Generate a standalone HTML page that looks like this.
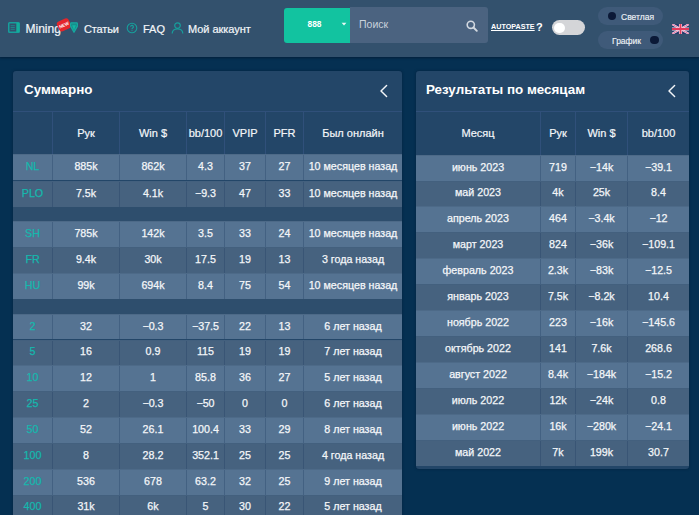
<!DOCTYPE html>
<html><head><meta charset="utf-8"><title>Stats</title>
<style>
*{box-sizing:border-box;margin:0;padding:0}
html,body{width:699px;height:515px;overflow:hidden}
body{background:#053052;font-family:"Liberation Sans","DejaVu Sans",sans-serif;position:relative;color:#fff}
.abs{position:absolute}
.hdr{position:absolute;left:0;top:0;width:699px;height:57px;background:#33516d;box-shadow:0 1px 2px rgba(0,15,35,0.5)}
.nav{position:absolute;top:22px;font-size:11px;line-height:14px;color:#f2f5f8;white-space:nowrap;-webkit-text-stroke:0.2px currentColor}
.pill{width:65px;height:17.5px;border-radius:9px;background:#3f5a79}
.dot{width:8.6px;height:8.6px;border-radius:50%;background:#0b1937}
.ptxt{font-size:8.5px;line-height:10px;color:#eef2f6;white-space:nowrap;-webkit-text-stroke:0.15px currentColor}
.panel{position:absolute;background:#234668;border-radius:3px;box-shadow:0 0 3px rgba(0,10,30,0.35)}
.ptitle{position:absolute;font-weight:bold;font-size:13.4px;line-height:16px;color:#fff;white-space:nowrap}
.tbl{position:absolute;overflow:hidden}
.tr{position:absolute;left:0;right:0;white-space:nowrap}
.td{position:absolute;top:0;bottom:0;display:flex;align-items:center;justify-content:center;font-size:10.7px;color:#f4f6f9;padding-bottom:3px;-webkit-text-stroke:0.25px currentColor}
.th .td{font-size:11px;padding-bottom:0.5px;-webkit-text-stroke:0.2px currentColor}
.bl{border-left:1px solid rgba(30,60,95,0.32)}
.th .bl{border-left-color:#30507a}
.light{background:#557392;border-top:1px solid #4d6a88}
.dark{background:#46627f;border-top:1px solid #43607e}
.th{border-top:1px solid #30507a}
.sep{background:#2e4e6d}
.lbl{color:#15b8ad}
</style></head>
<body>
<div class="hdr">
 <svg class="abs" style="left:8px;top:21.5px" width="12" height="11" viewBox="0 0 12 11">
  <rect x="0.75" y="0.75" width="10.5" height="9.5" rx="0.8" fill="none" stroke="#179f9c" stroke-width="1.5"/>
  <rect x="8.3" y="0.8" width="2.9" height="9.4" fill="#13ad9c"/>
  <path d="M2.6 3.7h4.2M2.6 5.5h4.2M2.6 7.3h4.2" stroke="#179f9c" stroke-width="0.9" opacity="0.75"/>
 </svg>
 <span class="nav" style="left:25.5px;top:21.5px;font-size:12px">Mining</span>
 <svg class="abs" style="left:56px;top:17px" width="16" height="16" viewBox="0 0 16 16">
  <g transform="rotate(-24 8 8)"><rect x="1.6" y="2.6" width="12.8" height="10.6" rx="2.8" fill="#e4262b"/>
  <text x="8" y="9.5" font-family="Liberation Sans" font-weight="bold" font-size="4.4" fill="#fff" text-anchor="middle">NEW</text></g>
 </svg>
 <svg class="abs" style="left:70px;top:22px" width="8" height="11" viewBox="0 0 8 11">
  <path d="M1 0.8h6l0.8 2.6L4 10.3 0.2 3.4z" fill="#168f8c" stroke="#17a8a0" stroke-width="1.3" stroke-linejoin="round"/>
  <path d="M2.2 3.2L4 8.6 5.8 3.2z" fill="#12b5a4"/>
 </svg>
 <span class="nav" style="left:84px;letter-spacing:-0.15px">Статьи</span>
 <svg class="abs" style="left:126px;top:22px" width="12" height="12" viewBox="0 0 12 12">
  <circle cx="6" cy="6" r="4.8" fill="none" stroke="#179f9c" stroke-width="1.1"/>
  <path d="M4.6 4.8a1.4 1.4 0 1 1 2 1.2c-.5.3-.6.6-.6 1.2" fill="none" stroke="#179f9c" stroke-width="1.1"/>
  <circle cx="6" cy="8.6" r="0.6" fill="#179f9c"/>
 </svg>
 <span class="nav" style="left:143px">FAQ</span>
 <svg class="abs" style="left:171px;top:22px" width="13" height="12" viewBox="0 0 13 12">
  <circle cx="6.5" cy="3.6" r="2.8" fill="none" stroke="#179f9c" stroke-width="1.2"/>
  <path d="M1.2 11.6c0-3 2.3-4.6 5.3-4.6s5.3 1.6 5.3 4.6" fill="none" stroke="#179f9c" stroke-width="1.2"/>
 </svg>
 <span class="nav" style="left:188px;letter-spacing:-0.05px">Мой аккаунт</span>
 <div class="abs" style="left:284px;top:8px;width:66px;height:35px;background:#12c3a0;border-radius:3px 0 0 3px"></div>
 <span class="abs" style="left:307.5px;top:18.6px;font-size:8.4px;line-height:10px;font-weight:bold;color:#fff">888</span>
 <svg class="abs" style="left:341px;top:22px" width="6" height="4" viewBox="0 0 6 4"><path d="M0.6 0.8h4.8L3 3.4z" fill="#e8f8f4"/></svg>
 <div class="abs" style="left:350px;top:7px;width:138px;height:36px;background:#4b6380;border-radius:0 3px 3px 0"></div>
 <span class="abs" style="left:359px;top:18px;font-size:10.5px;line-height:12px;color:#c9d2dc">Поиск</span>
 <svg class="abs" style="left:466px;top:20px" width="12" height="12" viewBox="0 0 12 12">
  <circle cx="4.8" cy="4.8" r="3.6" fill="none" stroke="#d3d9e0" stroke-width="1.6"/>
  <path d="M7.5 7.5L10.8 10.8" stroke="#d3d9e0" stroke-width="1.9" stroke-linecap="round"/>
 </svg>
 <span class="abs" style="left:491px;top:23px;font-size:7.2px;line-height:8px;font-weight:bold;color:#fff;text-decoration:underline">AUTOPASTE</span>
 <span class="abs" style="left:536px;top:21px;font-size:11px;line-height:12px;font-weight:bold;color:#fff">?</span>
 <div class="abs" style="left:552px;top:20px;width:33px;height:15px;border-radius:8px;background:#d4d5d8"></div>
 <div class="abs" style="left:554px;top:22.5px;width:10.5px;height:10.5px;border-radius:50%;background:#fff"></div>
 <div class="abs pill" style="left:598px;top:7px"></div>
 <div class="abs dot" style="left:607.5px;top:11.7px"></div>
 <span class="abs ptxt" style="left:621px;top:12px">Светлая</span>
 <div class="abs pill" style="left:598px;top:31px"></div>
 <span class="abs ptxt" style="left:612px;top:36px">График</span>
 <div class="abs dot" style="left:650px;top:35.7px"></div>
 <svg class="abs" style="left:672px;top:24px" width="17" height="10" viewBox="0 0 60 36" preserveAspectRatio="none">
  <rect width="60" height="36" fill="#24386a"/>
  <path d="M0 0L60 36M60 0L0 36" stroke="#f3e6f0" stroke-width="7"/>
  <path d="M0 0L60 36M60 0L0 36" stroke="#e5397a" stroke-width="2.5"/>
  <path d="M30 0v36M0 18h60" stroke="#f3e6f0" stroke-width="11"/>
  <path d="M30 0v36M0 18h60" stroke="#e33a5a" stroke-width="6.5"/>
 </svg>
</div>
<div class="panel" style="left:13px;top:71px;width:389px;height:460px">
</div>
<div class="ptitle" style="left:24px;top:82.4px">Суммарно</div>
<svg class="abs" style="left:379.3px;top:84px" width="9" height="14" viewBox="0 0 9 14"><path d="M7.6 1.4L2 7l5.6 5.6" fill="none" stroke="#f2f5f8" stroke-width="1.45" stroke-linecap="round" stroke-linejoin="round"/></svg>
<div class="panel" style="left:416px;top:71px;width:273px;height:398px"></div>
<div class="ptitle" style="left:426px;top:82.4px">Результаты по месяцам</div>
<svg class="abs" style="left:666.9px;top:84.2px" width="9" height="14" viewBox="0 0 9 14"><path d="M7.6 1.4L2 7l5.6 5.6" fill="none" stroke="#f2f5f8" stroke-width="1.45" stroke-linecap="round" stroke-linejoin="round"/></svg>
<div class="tbl" id="lt" style="left:13px;top:111px;width:389px;height:410px"><div class="tr th" style="top:0;height:43.40px"><div class="td" style="left:0px;width:39px"></div><div class="td bl" style="left:39px;width:67px">Рук</div><div class="td bl" style="left:106px;width:67px">Win $</div><div class="td bl" style="left:173px;width:38px">bb/100</div><div class="td bl" style="left:211px;width:41px">VPIP</div><div class="td bl" style="left:252px;width:38px">PFR</div><div class="td bl" style="left:290px;width:99px">Был онлайн</div></div><div class="tr light" style="top:43.40px;height:26.10px"><div class="td lbl" style="left:0px;width:39px">NL</div><div class="td bl" style="left:39px;width:67px">885k</div><div class="td bl" style="left:106px;width:67px">862k</div><div class="td bl" style="left:173px;width:38px">4.3</div><div class="td bl" style="left:211px;width:41px">37</div><div class="td bl" style="left:252px;width:38px">27</div><div class="td bl" style="left:290px;width:99px">10 месяцев назад</div></div><div class="tr dark" style="top:69.50px;height:26.30px"><div class="td lbl" style="left:0px;width:39px">PLO</div><div class="td bl" style="left:39px;width:67px">7.5k</div><div class="td bl" style="left:106px;width:67px">4.1k</div><div class="td bl" style="left:173px;width:38px">−9.3</div><div class="td bl" style="left:211px;width:41px">47</div><div class="td bl" style="left:252px;width:38px">33</div><div class="td bl" style="left:290px;width:99px">10 месяцев назад</div></div><div class="tr sep" style="top:95.80px;height:14.00px"></div><div class="tr light" style="top:109.80px;height:26.50px"><div class="td lbl" style="left:0px;width:39px">SH</div><div class="td bl" style="left:39px;width:67px">785k</div><div class="td bl" style="left:106px;width:67px">142k</div><div class="td bl" style="left:173px;width:38px">3.5</div><div class="td bl" style="left:211px;width:41px">33</div><div class="td bl" style="left:252px;width:38px">24</div><div class="td bl" style="left:290px;width:99px">10 месяцев назад</div></div><div class="tr dark" style="top:136.30px;height:25.80px"><div class="td lbl" style="left:0px;width:39px">FR</div><div class="td bl" style="left:39px;width:67px">9.4k</div><div class="td bl" style="left:106px;width:67px">30k</div><div class="td bl" style="left:173px;width:38px">17.5</div><div class="td bl" style="left:211px;width:41px">19</div><div class="td bl" style="left:252px;width:38px">13</div><div class="td bl" style="left:290px;width:99px">3 года назад</div></div><div class="tr light" style="top:162.10px;height:25.60px"><div class="td lbl" style="left:0px;width:39px">HU</div><div class="td bl" style="left:39px;width:67px">99k</div><div class="td bl" style="left:106px;width:67px">694k</div><div class="td bl" style="left:173px;width:38px">8.4</div><div class="td bl" style="left:211px;width:41px">75</div><div class="td bl" style="left:252px;width:38px">54</div><div class="td bl" style="left:290px;width:99px">10 месяцев назад</div></div><div class="tr sep" style="top:187.70px;height:15.20px"></div><div class="tr light" style="top:202.90px;height:25.60px"><div class="td lbl" style="left:0px;width:39px">2</div><div class="td bl" style="left:39px;width:67px">32</div><div class="td bl" style="left:106px;width:67px">−0.3</div><div class="td bl" style="left:173px;width:38px">−37.5</div><div class="td bl" style="left:211px;width:41px">22</div><div class="td bl" style="left:252px;width:38px">13</div><div class="td bl" style="left:290px;width:99px">6 лет назад</div></div><div class="tr dark" style="top:228.50px;height:25.80px"><div class="td lbl" style="left:0px;width:39px">5</div><div class="td bl" style="left:39px;width:67px">16</div><div class="td bl" style="left:106px;width:67px">0.9</div><div class="td bl" style="left:173px;width:38px">115</div><div class="td bl" style="left:211px;width:41px">19</div><div class="td bl" style="left:252px;width:38px">19</div><div class="td bl" style="left:290px;width:99px">7 лет назад</div></div><div class="tr light" style="top:254.30px;height:25.90px"><div class="td lbl" style="left:0px;width:39px">10</div><div class="td bl" style="left:39px;width:67px">12</div><div class="td bl" style="left:106px;width:67px">1</div><div class="td bl" style="left:173px;width:38px">85.8</div><div class="td bl" style="left:211px;width:41px">36</div><div class="td bl" style="left:252px;width:38px">27</div><div class="td bl" style="left:290px;width:99px">5 лет назад</div></div><div class="tr dark" style="top:280.20px;height:25.80px"><div class="td lbl" style="left:0px;width:39px">25</div><div class="td bl" style="left:39px;width:67px">2</div><div class="td bl" style="left:106px;width:67px">−0.3</div><div class="td bl" style="left:173px;width:38px">−50</div><div class="td bl" style="left:211px;width:41px">0</div><div class="td bl" style="left:252px;width:38px">0</div><div class="td bl" style="left:290px;width:99px">6 лет назад</div></div><div class="tr light" style="top:306.00px;height:25.80px"><div class="td lbl" style="left:0px;width:39px">50</div><div class="td bl" style="left:39px;width:67px">52</div><div class="td bl" style="left:106px;width:67px">26.1</div><div class="td bl" style="left:173px;width:38px">100.4</div><div class="td bl" style="left:211px;width:41px">33</div><div class="td bl" style="left:252px;width:38px">29</div><div class="td bl" style="left:290px;width:99px">8 лет назад</div></div><div class="tr dark" style="top:331.80px;height:26.00px"><div class="td lbl" style="left:0px;width:39px">100</div><div class="td bl" style="left:39px;width:67px">8</div><div class="td bl" style="left:106px;width:67px">28.2</div><div class="td bl" style="left:173px;width:38px">352.1</div><div class="td bl" style="left:211px;width:41px">25</div><div class="td bl" style="left:252px;width:38px">25</div><div class="td bl" style="left:290px;width:99px">4 года назад</div></div><div class="tr light" style="top:357.80px;height:25.80px"><div class="td lbl" style="left:0px;width:39px">200</div><div class="td bl" style="left:39px;width:67px">536</div><div class="td bl" style="left:106px;width:67px">678</div><div class="td bl" style="left:173px;width:38px">63.2</div><div class="td bl" style="left:211px;width:41px">32</div><div class="td bl" style="left:252px;width:38px">25</div><div class="td bl" style="left:290px;width:99px">9 лет назад</div></div><div class="tr dark" style="top:383.60px;height:25.80px"><div class="td lbl" style="left:0px;width:39px">400</div><div class="td bl" style="left:39px;width:67px">31k</div><div class="td bl" style="left:106px;width:67px">6k</div><div class="td bl" style="left:173px;width:38px">5</div><div class="td bl" style="left:211px;width:41px">30</div><div class="td bl" style="left:252px;width:38px">22</div><div class="td bl" style="left:290px;width:99px">5 лет назад</div></div></div>
<div class="tbl" id="rt" style="left:416px;top:111px;width:273px;height:355px"><div class="tr th" style="top:0;height:43.6px"><div class="td" style="left:0px;width:124px">Месяц</div><div class="td bl" style="left:124px;width:35px">Рук</div><div class="td bl" style="left:159px;width:52px">Win $</div><div class="td bl" style="left:211px;width:62px">bb/100</div></div><div class="tr light" style="top:43.60px;height:25.93px"><div class="td" style="left:0px;width:124px">июнь 2023</div><div class="td bl" style="left:124px;width:35px">719</div><div class="td bl" style="left:159px;width:52px">−14k</div><div class="td bl" style="left:211px;width:62px">−39.1</div></div><div class="tr dark" style="top:69.53px;height:25.93px"><div class="td" style="left:0px;width:124px">май 2023</div><div class="td bl" style="left:124px;width:35px">4k</div><div class="td bl" style="left:159px;width:52px">25k</div><div class="td bl" style="left:211px;width:62px">8.4</div></div><div class="tr light" style="top:95.46px;height:25.93px"><div class="td" style="left:0px;width:124px">апрель 2023</div><div class="td bl" style="left:124px;width:35px">464</div><div class="td bl" style="left:159px;width:52px">−3.4k</div><div class="td bl" style="left:211px;width:62px">−12</div></div><div class="tr dark" style="top:121.39px;height:25.93px"><div class="td" style="left:0px;width:124px">март 2023</div><div class="td bl" style="left:124px;width:35px">824</div><div class="td bl" style="left:159px;width:52px">−36k</div><div class="td bl" style="left:211px;width:62px">−109.1</div></div><div class="tr light" style="top:147.32px;height:25.93px"><div class="td" style="left:0px;width:124px">февраль 2023</div><div class="td bl" style="left:124px;width:35px">2.3k</div><div class="td bl" style="left:159px;width:52px">−83k</div><div class="td bl" style="left:211px;width:62px">−12.5</div></div><div class="tr dark" style="top:173.25px;height:25.93px"><div class="td" style="left:0px;width:124px">январь 2023</div><div class="td bl" style="left:124px;width:35px">7.5k</div><div class="td bl" style="left:159px;width:52px">−8.2k</div><div class="td bl" style="left:211px;width:62px">10.4</div></div><div class="tr light" style="top:199.18px;height:25.93px"><div class="td" style="left:0px;width:124px">ноябрь 2022</div><div class="td bl" style="left:124px;width:35px">223</div><div class="td bl" style="left:159px;width:52px">−16k</div><div class="td bl" style="left:211px;width:62px">−145.6</div></div><div class="tr dark" style="top:225.11px;height:25.93px"><div class="td" style="left:0px;width:124px">октябрь 2022</div><div class="td bl" style="left:124px;width:35px">141</div><div class="td bl" style="left:159px;width:52px">7.6k</div><div class="td bl" style="left:211px;width:62px">268.6</div></div><div class="tr light" style="top:251.04px;height:25.93px"><div class="td" style="left:0px;width:124px">август 2022</div><div class="td bl" style="left:124px;width:35px">8.4k</div><div class="td bl" style="left:159px;width:52px">−184k</div><div class="td bl" style="left:211px;width:62px">−15.2</div></div><div class="tr dark" style="top:276.97px;height:25.93px"><div class="td" style="left:0px;width:124px">июль 2022</div><div class="td bl" style="left:124px;width:35px">12k</div><div class="td bl" style="left:159px;width:52px">−24k</div><div class="td bl" style="left:211px;width:62px">0.8</div></div><div class="tr light" style="top:302.90px;height:25.93px"><div class="td" style="left:0px;width:124px">июнь 2022</div><div class="td bl" style="left:124px;width:35px">16k</div><div class="td bl" style="left:159px;width:52px">−280k</div><div class="td bl" style="left:211px;width:62px">−24.1</div></div><div class="tr dark" style="top:328.83px;height:25.93px"><div class="td" style="left:0px;width:124px">май 2022</div><div class="td bl" style="left:124px;width:35px">7k</div><div class="td bl" style="left:159px;width:52px">199k</div><div class="td bl" style="left:211px;width:62px">30.7</div></div></div>
</body></html>
